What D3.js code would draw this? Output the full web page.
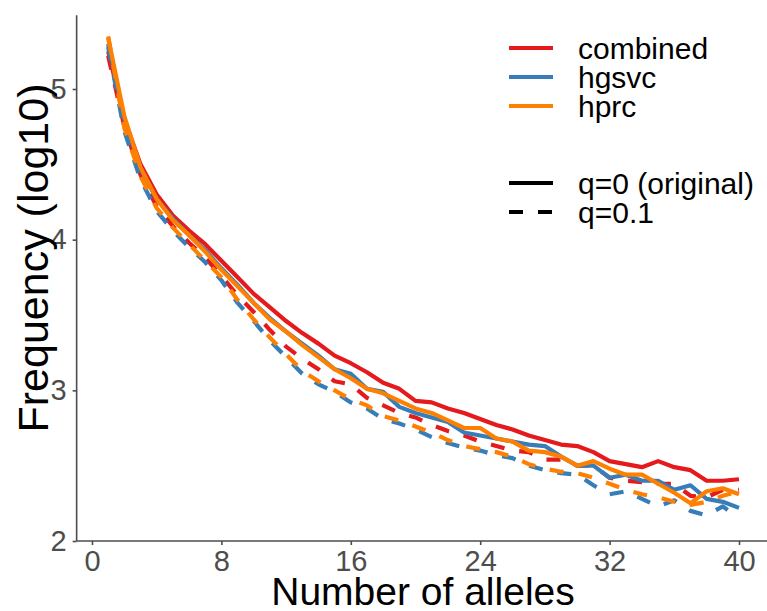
<!DOCTYPE html>
<html>
<head>
<meta charset="utf-8">
<script src="https://cdn.jsdelivr.net/npm/d3@7"></script>
<style>
  html, body { margin: 0; padding: 0; background: #fff; }
  svg { display: block; font-family: "Liberation Sans", Arial, sans-serif; }
</style>
</head>
<body>
<svg id="chart" width="767" height="611"></svg>
<script>
const alleles = d3.range(1, 41);
const xTicks = [0, 8, 16, 24, 32, 40];
const yTicks = [2, 3, 4, 5];
const groups = ["combined", "hgsvc", "hprc"];
const qLabels = ["q=0 (original)", "q=0.1"];
const colors = ["#E41A1C", "#377EB8", "#FF7F00"];

const combinedQ0 = [5.25,4.80,4.50,4.30,4.16,4.06,3.97,3.86,3.75,3.64,3.55,3.46,3.38,3.31,3.23,3.18,3.12,3.05,3.01,2.93,2.92,2.88,2.85,2.81,2.77,2.74,2.70,2.67,2.64,2.63,2.59,2.53,2.51,2.49,2.53,2.49,2.47,2.40,2.40,2.41];
const hgsvcQ0 = [5.30,4.80,4.47,4.27,4.14,4.03,3.93,3.81,3.70,3.58,3.48,3.39,3.31,3.23,3.14,3.11,3.01,2.99,2.89,2.85,2.82,2.79,2.72,2.70,2.68,2.66,2.64,2.63,2.56,2.50,2.50,2.42,2.44,2.40,2.40,2.34,2.37,2.28,2.26,2.22];
const hprcQ0 = [5.34,4.82,4.48,4.27,4.13,4.03,3.92,3.80,3.69,3.58,3.47,3.39,3.30,3.22,3.14,3.08,3.01,2.98,2.93,2.88,2.85,2.80,2.75,2.75,2.68,2.66,2.60,2.59,2.56,2.50,2.53,2.48,2.44,2.44,2.38,2.32,2.25,2.33,2.35,2.31];
const combinedQ01 = [5.22,4.75,4.43,4.22,4.09,3.98,3.88,3.76,3.63,3.52,3.40,3.29,3.21,3.14,3.06,3.04,2.95,2.90,2.85,2.82,2.77,2.73,2.70,2.66,2.63,2.60,2.59,2.54,2.54,2.50,2.50,2.42,2.40,2.39,2.38,2.38,2.30,2.29,2.34,2.34];
const hgsvcQ01 = [5.28,4.72,4.40,4.19,4.06,3.95,3.85,3.73,3.58,3.46,3.33,3.22,3.11,3.04,2.99,2.92,2.88,2.81,2.78,2.74,2.69,2.65,2.62,2.60,2.57,2.55,2.50,2.47,2.45,2.44,2.37,2.31,2.33,2.28,2.23,2.27,2.20,2.17,2.23,2.15];
const hprcQ01 = [5.35,4.74,4.42,4.21,4.08,3.97,3.86,3.75,3.60,3.47,3.35,3.24,3.13,3.06,3.00,2.94,2.90,2.83,2.80,2.76,2.72,2.67,2.63,2.61,2.59,2.56,2.51,2.48,2.46,2.45,2.42,2.38,2.34,2.31,2.29,2.26,2.24,2.26,2.30,2.33];

const series = [
  {group: 0, q: 0, values: combinedQ0},
  {group: 0, q: 1, values: combinedQ01},
  {group: 1, q: 0, values: hgsvcQ0},
  {group: 1, q: 1, values: hgsvcQ01},
  {group: 2, q: 0, values: hprcQ0},
  {group: 2, q: 1, values: hprcQ01}
];

const svg = d3.select("#chart");
const axisColor = "#4D4D4D";
const x = d3.scaleLinear().domain([0, 40]).range([92, 739]);
const y = d3.scaleLinear().domain([2, 5]).range([541, 89]);
const xMin = -0.95, xMax = 42, yMax = 5.49;

// lines
const line = d3.line().x((d, i) => x(alleles[i])).y(d => y(d));
const dash = "14,15";
svg.append("g").selectAll("path").data(series).join("path")
  .attr("d", d => line(d.values))
  .attr("fill", "none")
  .attr("stroke", d => colors[d.group])
  .attr("stroke-width", 4.2)
  .attr("stroke-linejoin", "round")
  .attr("stroke-dasharray", d => d.q ? dash : null);

// axes
const xAxis = svg.append("g").attr("transform", `translate(0,${y(2)})`)
  .call(d3.axisBottom(x).tickValues(xTicks).tickFormat(d3.format("d")).tickSize(4).tickPadding(5));
xAxis.select(".domain").attr("d", `M${x(xMin)},0H${x(xMax)}`);
const yAxis = svg.append("g").attr("transform", `translate(${x(xMin)},0)`)
  .call(d3.axisLeft(y).tickValues(yTicks).tickFormat(d3.format("d")).tickSize(4).tickPadding(6));
yAxis.select(".domain").attr("d", `M0,${y(yMax)}V${y(2)}`);
svg.selectAll(".domain").attr("stroke", axisColor).attr("stroke-width", 1.6);
svg.selectAll(".tick line").attr("stroke", axisColor).attr("stroke-width", 1.6);
svg.selectAll(".tick text").attr("fill", axisColor).attr("font-size", 29)
  .attr("font-family", "Liberation Sans, Arial, sans-serif");

// titles
svg.append("text").attr("x", 423).attr("y", 605).attr("text-anchor", "middle")
  .attr("font-size", 39).attr("fill", "#000").text("Number of alleles");
svg.append("text").attr("transform", "translate(48,258) rotate(-90)")
  .attr("text-anchor", "middle").attr("font-size", 43).attr("fill", "#000")
  .text("Frequency (log10)");

// legend
const leg = svg.append("g");
const legY1 = [48, 77, 106];
groups.forEach((g, i) => {
  leg.append("line").attr("x1", 509).attr("x2", 553).attr("y1", legY1[i]).attr("y2", legY1[i])
    .attr("stroke", colors[i]).attr("stroke-width", 4.2);
  leg.append("text").attr("x", 578).attr("y", legY1[i]).attr("dy", "0.35em")
    .attr("font-size", 30).text(g);
});
const legY2 = [183, 212];
qLabels.forEach((t, i) => {
  leg.append("line").attr("x1", 509).attr("x2", 553).attr("y1", legY2[i]).attr("y2", legY2[i])
    .attr("stroke", "#000").attr("stroke-width", 4.2)
    .attr("stroke-dasharray", i ? dash : null);
  leg.append("text").attr("x", 578).attr("y", legY2[i]).attr("dy", "0.35em")
    .attr("font-size", 30).text(t);
});
</script>
</body>
</html>
